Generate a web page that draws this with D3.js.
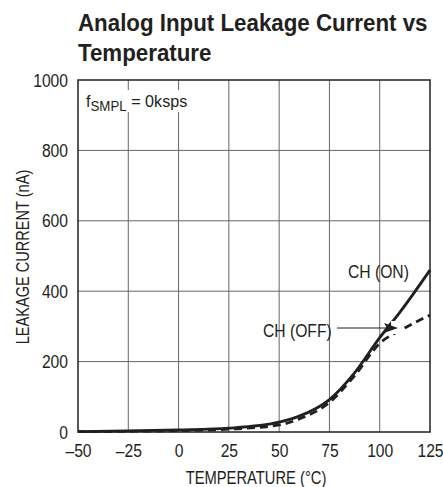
<!DOCTYPE html>
<html><head><meta charset="utf-8">
<script src="https://cdn.jsdelivr.net/npm/d3@7"></script>
<style>body{margin:0;background:#fff}svg{display:block}</style>
</head><body>
<script>
const temps = [-50, -25, 0, 25, 50, 60, 75, 87.5, 100, 110, 125];
const chOn  = [1, 3, 6, 11, 28, 45, 92, 168, 268, 340, 460];
const chOff = [1, 2, 4, 8, 20, 37, 84, 160, 252, 288, 332];
const xTicks = [-50, -25, 0, 25, 50, 75, 100, 125];
const yTicks = [0, 200, 400, 600, 800, 1000];

const W = 443, H = 487;
const m = {l: 78, r: 430, t: 80, b: 432};
const font = "'Liberation Sans', Arial, sans-serif";
const ink = "#231f20";
const svg = d3.select("body").append("svg").attr("width", W).attr("height", H);
const x = d3.scaleLinear().domain([-50, 125]).range([m.l, m.r]);
const y = d3.scaleLinear().domain([0, 1000]).range([m.b, m.t]);

function ctext(px, py, str, size, sx, anchor, rot) {
  const t = svg.append("text")
    .attr("transform", `translate(${px},${py})${rot ? " rotate(" + rot + ")" : ""} scale(${sx},1)`)
    .attr("font-family", font).attr("font-size", size).attr("fill", ink)
    .attr("text-anchor", anchor || "start");
  if (str !== null) t.text(str);
  return t;
}

// title
ctext(78, 31, "Analog Input Leakage Current vs", 24, 0.93).attr("font-weight", "bold");
ctext(78, 61, "Temperature", 24, 0.93).attr("font-weight", "bold");

// grid
const g = svg.append("g");
g.selectAll("line.v").data(xTicks.slice(1, -1)).join("line")
  .attr("x1", d => x(d)).attr("x2", d => x(d)).attr("y1", m.t).attr("y2", m.b)
  .attr("stroke", "#666").attr("stroke-width", 1);
g.selectAll("line.h").data(yTicks.slice(1, -1)).join("line")
  .attr("y1", d => y(d)).attr("y2", d => y(d)).attr("x1", m.l).attr("x2", m.r)
  .attr("stroke", "#666").attr("stroke-width", 1);

// label box (masks grid)
svg.append("rect").attr("x", 84).attr("y", 90).attr("width", 108).attr("height", 22).attr("fill", "#fff");
const lab = ctext(86, 107, null, 17, 0.95);
lab.append("tspan").text("f");
lab.append("tspan").attr("font-size", 14).attr("dy", 4).text("SMPL");
lab.append("tspan").attr("dy", -4).text(" = 0ksps");

// curves
const line = d3.line().x(d => x(d[0])).y(d => y(d[1])).curve(d3.curveMonotoneX);
svg.append("path").attr("d", line(temps.map((t, i) => [t, chOff[i]])))
  .attr("fill", "none").attr("stroke", ink).attr("stroke-width", 2.8)
  .attr("stroke-dasharray", "8,5");
svg.append("path").attr("d", line(temps.map((t, i) => [t, chOn[i]])))
  .attr("fill", "none").attr("stroke", ink).attr("stroke-width", 2.8);

// arrow
svg.append("rect").attr("x", 391).attr("y", 321).attr("width", 10).attr("height", 13).attr("fill", "#fff");
svg.append("line").attr("x1", 337).attr("x2", 390).attr("y1", 328).attr("y2", 328)
  .attr("stroke", ink).attr("stroke-width", 1);
svg.append("path").attr("d", "M398,328 L384,323 L387,328 L384,333 Z").attr("fill", ink);

ctext(263, 337, "CH (OFF)", 18, 0.87);
ctext(348, 278, "CH (ON)", 18, 0.87);

// frame
svg.append("rect").attr("x", m.l).attr("y", m.t).attr("width", m.r - m.l).attr("height", m.b - m.t)
  .attr("fill", "none").attr("stroke", ink).attr("stroke-width", 1.5);

// axes
const xa = svg.append("g").attr("transform", `translate(0,${m.b})`)
  .call(d3.axisBottom(x).tickValues(xTicks).tickSize(0).tickPadding(0)
    .tickFormat(d => d < 0 ? "\u2013" + (-d) : String(d)));
xa.select(".domain").remove();
xa.selectAll("text").attr("font-family", font).attr("font-size", 18).attr("fill", ink)
  .attr("dy", null).attr("y", null).attr("transform", "translate(0,25) scale(0.87,1)");
const ya = svg.append("g").attr("transform", `translate(${m.l},0)`)
  .call(d3.axisLeft(y).tickValues(yTicks).tickSize(0).tickPadding(0).tickFormat(d3.format("d")));
ya.select(".domain").remove();
ya.selectAll("text").attr("font-family", font).attr("font-size", 18).attr("fill", ink)
  .attr("x", null).attr("dy", null).attr("transform", "translate(-10,6) scale(0.87,1)");

ctext((m.l + m.r) / 2 + 2, 484, "TEMPERATURE (\u00B0C)", 18, 0.82, "middle");
ctext(29, 257, "LEAKAGE CURRENT (nA)", 18, 0.81, "middle", -90);
</script>
</body></html>
